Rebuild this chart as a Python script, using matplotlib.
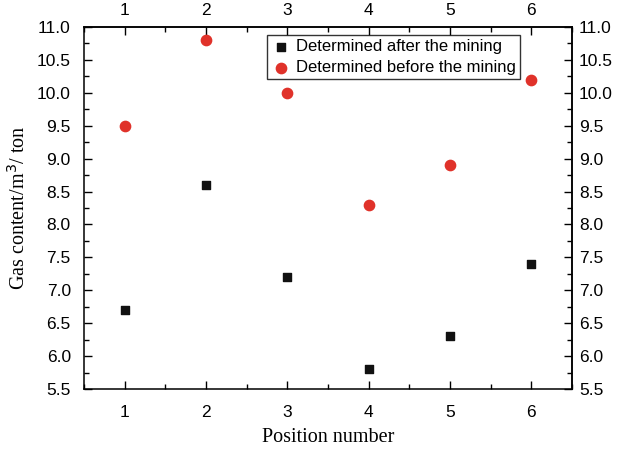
import numpy as np
import matplotlib
matplotlib.use('Agg')
import matplotlib.pyplot as plt
from matplotlib.ticker import MultipleLocator, FormatStrFormatter

positions = [1, 2, 3, 4, 5, 6]
after_mining = [6.7, 8.6, 7.2, 5.8, 6.3, 7.4]
before_mining = [9.5, 10.8, 10.0, 8.3, 8.9, 10.2]

plt.rcParams['font.family'] = ['Liberation Sans', 'DejaVu Sans']

fig = plt.figure(figsize=(6.18, 4.49), dpi=100)
ax = fig.add_axes([84 / 618, 1 - 389 / 449, (572 - 84) / 618, (389 - 27) / 449])

ax.scatter(positions, after_mining, marker='s', s=30, color='#111111',
           label='Determined after the mining', zorder=3)
ax.scatter(positions, before_mining, marker='o', s=55, color='#e0322a',
           label='Determined before the mining', zorder=3)

ax.set_xlim(0.5, 6.5)
ax.set_ylim(5.5, 11.0)


def style_axis(a, x_loc=True):
    a.xaxis.set_major_locator(MultipleLocator(1))
    a.xaxis.set_minor_locator(MultipleLocator(0.5))
    a.yaxis.set_major_locator(MultipleLocator(0.5))
    a.yaxis.set_minor_locator(MultipleLocator(0.25))
    a.yaxis.set_major_formatter(FormatStrFormatter('%.1f'))


style_axis(ax)
ax.tick_params(which='both', direction='in', top=False, right=False,
               labelsize=12.5, width=1.0)
ax.tick_params(which='major', length=6)
ax.tick_params(which='minor', length=3.5)
ax.tick_params(axis='x', which='major', pad=11.5)
ax.tick_params(axis='y', which='major', pad=9.5)

# top and right axes carry their own labels (closer to the frame)
top = ax.secondary_xaxis('top')
top.xaxis.set_major_locator(MultipleLocator(1))
top.xaxis.set_minor_locator(MultipleLocator(0.5))
top.tick_params(which='both', direction='in', labelsize=12.5, width=1.0)
top.tick_params(which='major', length=6, pad=6.5)
top.tick_params(which='minor', length=3.5)

right = ax.secondary_yaxis('right')
right.yaxis.set_major_locator(MultipleLocator(0.5))
right.yaxis.set_minor_locator(MultipleLocator(0.25))
right.yaxis.set_major_formatter(FormatStrFormatter('%.1f'))
right.tick_params(which='both', direction='in', labelsize=12.5, width=1.0)
right.tick_params(which='major', length=6, pad=5)
right.tick_params(which='minor', length=3.5)

for a in (ax, top, right):
    for sp in a.spines.values():
        sp.set_linewidth(1.1)

ax.set_xlabel('Position number', family=['Liberation Serif'], fontsize=14.5,
              labelpad=6)
ax.set_ylabel('Gas content/m$^3$/ ton', family=['Liberation Serif'],
              fontsize=14.5, labelpad=5)

leg = ax.legend(loc='upper left', bbox_to_anchor=(0.375, 0.978), fontsize=12,
                frameon=True, fancybox=False, edgecolor='black',
                handletextpad=0.3, borderpad=0.25, labelspacing=0.35,
                handlelength=1.2, borderaxespad=0)
leg.get_frame().set_linewidth(1.0)

fig.savefig('out.png', dpi=100)
